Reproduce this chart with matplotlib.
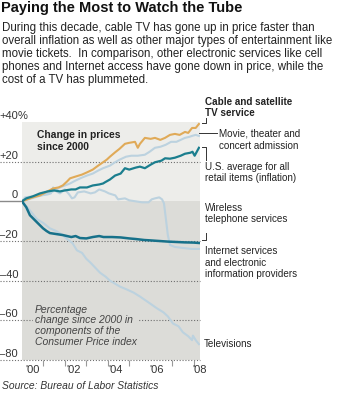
import numpy as np
import matplotlib
matplotlib.use('Agg')
import matplotlib.pyplot as plt
from matplotlib.lines import Line2D

plt.rcParams['font.family'] = ['Liberation Sans', 'DejaVu Sans']

# ---- data (percent change since 2000) ----
cable_yr = [2000.0, 2000.25, 2000.5, 2000.84, 2001.1, 2001.45, 2001.7, 2001.9, 2002.1, 2002.24,
            2002.5, 2002.8, 2003.03, 2003.3, 2003.55, 2003.78, 2003.95, 2004.1, 2004.34, 2004.55,
            2004.8, 2005.0, 2005.27, 2005.4, 2005.5, 2005.73, 2006.0, 2006.2, 2006.45, 2006.67,
            2006.9, 2007.13, 2007.35, 2007.6, 2007.75, 2007.93, 2008.1, 2008.25]
cable = [0, 1, 2, 3, 4.5, 6.5, 7, 8, 10, 11.6,
         12.5, 13.5, 14.6, 16, 18, 19.7, 21, 22.5, 24.7, 26.5,
         29, 29.5, 30, 27, 29, 32, 31.5, 32, 31, 32,
         33.5, 34, 33.5, 35, 34.5, 37, 37, 39]

movie_yr = [2000.0, 2000.3, 2000.6, 2000.9, 2001.2, 2001.45, 2001.77, 2002.0, 2002.24, 2002.5,
            2002.8, 2003.03, 2003.3, 2003.55, 2003.78, 2004.1, 2004.34, 2004.55, 2004.85, 2005.1,
            2005.4, 2005.73, 2005.95, 2006.2, 2006.45, 2006.7, 2006.95, 2007.2, 2007.4, 2007.6,
            2007.8, 2007.93, 2008.1, 2008.25]
movie = [0, 1, 2, 3, 4, 5, 7, 8, 9, 10.5,
         12, 13, 14, 15.5, 16.7, 18, 19.7, 21, 22.5, 23,
         23, 23.5, 25, 27, 27.5, 28.5, 30, 30, 31, 32,
         32.5, 33, 33.5, 33]

cpi_yr = [2000.0, 2000.2, 2000.5, 2000.84, 2001.2, 2001.5, 2001.77, 2002.0, 2002.3, 2002.5,
          2002.7, 2003.03, 2003.3, 2003.6, 2003.78, 2003.87, 2004.1, 2004.34, 2004.6, 2004.8,
          2005.0, 2005.3, 2005.5, 2005.73, 2006.0, 2006.2, 2006.5, 2006.67, 2006.9, 2007.13,
          2007.4, 2007.6, 2007.85, 2007.95, 2008.05, 2008.25]
cpi = [0, 1.5, 2.5, 4, 5, 5.5, 5, 5.5, 6, 6,
       7, 7, 8, 8.5, 9, 9.6, 11, 13, 14, 16.7,
       16, 17, 17.5, 16.7, 18.5, 19.7, 20.5, 21.7, 21.5, 22,
       23, 24, 24.5, 25, 23, 27]

wireless_yr = [2000.0, 2000.2, 2000.37, 2000.7, 2000.98, 2001.15, 2001.3, 2001.6, 2001.9, 2002.1,
               2002.3, 2002.5, 2002.7, 2003.0, 2003.3, 2003.6, 2003.8, 2004.2, 2004.6, 2005.0,
               2005.3, 2005.7, 2006.0, 2006.4, 2006.8, 2007.2, 2007.6, 2008.0, 2008.25]
wireless = [0, -3, -7, -10.6, -13.6, -15, -16, -16.5, -17, -17.5,
            -18, -17.5, -18.5, -18.7, -18, -17.5, -18, -18, -18.2, -18.7,
            -19, -19.5, -19.7, -20, -20.3, -20.5, -20.7, -20.8, -21]

tv_yr = [2000.0, 2000.4, 2000.7, 2001.0, 2001.3, 2001.6, 2001.9, 2002.1, 2002.35, 2002.56,
         2002.8, 2003.0, 2003.2, 2003.64, 2003.9, 2004.1, 2004.57, 2004.9, 2005.2, 2005.5,
         2005.97, 2006.3, 2006.6, 2006.8, 2007.04, 2007.3, 2007.5, 2007.75, 2007.93, 2007.97,
         2008.1, 2008.25]
tv = [0, -5, -9, -11, -13.6, -15, -17, -19, -21, -24.7,
      -26, -29, -31, -36, -38, -40, -43, -44.5, -46, -48,
      -51.5, -54, -56, -58, -61.6, -63, -66, -68, -70, -67.7,
      -70, -72]

net_yr = [2000.0, 2000.14, 2000.5, 2000.9, 2001.2, 2001.35, 2001.45, 2001.6, 2001.77, 2002.0,
          2002.2, 2002.33, 2002.45, 2002.6, 2002.9, 2003.2, 2003.4, 2003.6, 2003.87, 2004.05,
          2004.2, 2004.35, 2004.48, 2004.8, 2005.0, 2005.3, 2005.6, 2005.9, 2006.05, 2006.2,
          2006.4, 2006.53, 2006.62, 2006.7, 2006.8, 2006.9, 2007.13, 2007.5, 2007.9, 2008.25]
net = [0, 2, 2.5, 3, 3.5, 4, 7, 5, 4, 6,
       3.5, 1.5, 2, 4.5, 5, 4, 4.5, 6, 5, 4,
       3.5, 3, 1, 1.5, 0.5, 0, -0.5, -0.5, 1, 1.5,
       2, 1, -1, -8, -17, -22, -23, -23.5, -24, -24]

grid_vals = [20, -20, -40, -60, -80]
ytick_vals = [40, 20, 0, -20, -40, -60, -80]
ytick_text = ['+40', '+20', '0', '\u201320', '\u201340', '\u201360', '\u201380']
year_ticks = [2001, 2002, 2003, 2004, 2005, 2007, 2008]
year_label_pos = [2000.47, 2002.42, 2004.34, 2006.29, 2008.3]
year_labels = ["'00", "'02", "'04", "'06", "'08"]

# ---- layout helpers (pixel coords of a 350x396 image) ----
W, H = 350, 396
def fx(px):
    return px / W
def fy(py):
    return 1 - py / H

upper_bg = '#ededea'
lower_bg = '#dcdcd8'
orange = '#e0aa58'
light = '#bcd2df'
teal = '#1b7e8e'
dark_teal = '#17718a'
txt = '#222222'

fig = plt.figure(figsize=(3.5, 3.96), dpi=100)
ax = fig.add_axes([fx(22), fy(360), fx(200) - fx(22), (360 - 122) / H])
ax.set_xlim(2000, 2008.3)
ax.set_ylim(-80, 40)
ax.set_facecolor('none')
for s in ax.spines.values():
    s.set_visible(False)

ax.axhspan(0, 40, color=upper_bg, zorder=0, lw=0)
ax.axhspan(-80, 0, color=lower_bg, zorder=0, lw=0)

left_ext = -22 / 178
for v in grid_vals:
    ax.plot([left_ext, 1], [v, v], transform=ax.get_yaxis_transform(), color='#6f6f6f',
            lw=0.8, ls=(0, (1, 1.6)), clip_on=False, zorder=1)
ax.plot([left_ext, 0], [0, 0], transform=ax.get_yaxis_transform(), color='#8a8a8a',
        lw=1, clip_on=False, zorder=1)

# series
lw = 1.5
ax.plot(tv_yr, tv, color=light, lw=lw, zorder=2, solid_joinstyle='round')
ax.plot(net_yr, net, color=light, lw=lw, zorder=2, solid_joinstyle='round')
ax.plot(movie_yr, movie, color=light, lw=lw, zorder=2, solid_joinstyle='round')
ax.plot(cable_yr, cable, color=orange, lw=lw, zorder=3, solid_joinstyle='round')
ax.plot(cpi_yr, cpi, color=teal, lw=1.6, zorder=4, solid_joinstyle='round')
ax.plot(wireless_yr, wireless, color=dark_teal, lw=1.8, zorder=4, solid_joinstyle='round')

# x axis
ax.set_yticks([])
ax.set_xticks(year_ticks)
ax.set_xticklabels([])
ax.set_xticks(year_label_pos, minor=True)
ax.set_xticklabels(year_labels, minor=True)
ax.tick_params(axis='x', which='major', length=4, width=0.8, color='#999999', direction='out')
ax.tick_params(axis='x', which='minor', length=0, pad=3.5, labelsize=8, labelcolor='#333333')

# y labels (above the grid lines, on the left)
for v, t in zip(ytick_vals, ytick_text):
    py = 201 - v * 1.983 - 2.5
    fig.text(fx(18), fy(py), t, ha='right', va='baseline', fontsize=8, color='#333333')
    if v == 40:
        fig.text(fx(18), fy(py), '%', ha='left', va='baseline', fontsize=8, color='#333333')

# title and intro
fig.text(fx(1), fy(12), 'Paying the Most to Watch the Tube', fontsize=10.5, fontweight='bold',
         color='#111111', va='baseline')
intro = ['During this decade, cable TV has gone up in price faster than',
         'overall inflation as well as other major types of entertainment like',
         'movie tickets.  In comparison, other electronic services like cell',
         'phones and Internet access have gone down in price, while the',
         'cost of a TV has plummeted.']
for i, line in enumerate(intro):
    fig.text(fx(2), fy(30.7 + i * 13.15), line, fontsize=8.3, color=txt, va='baseline')

# in-plot labels
fig.text(fx(37), fy(138), 'Change in prices', fontsize=7.4, fontweight='bold', color=txt, va='baseline')
fig.text(fx(37), fy(150), 'since 2000', fontsize=7.4, fontweight='bold', color=txt, va='baseline')
ax.text(fx(35), fy(345), 'Percentage\nchange since 2000 in\ncomponents of the\nConsumer Price index',
        transform=fig.transFigure, fontsize=7.5, style='italic', color='#444444', va='baseline',
        linespacing=1.1, zorder=1.5,
        bbox=dict(facecolor=lower_bg, edgecolor='none', pad=1.5))

# right labels
fs = 7.1
fig.text(fx(205), fy(105), 'Cable and satellite', fontsize=fs, fontweight='bold', color=txt, va='baseline')
fig.text(fx(205), fy(116), 'TV service', fontsize=fs, fontweight='bold', color=txt, va='baseline')
fig.text(fx(219), fy(137), 'Movie, theater and', fontsize=fs, color=txt, va='baseline')
fig.text(fx(219), fy(149), 'concert admission', fontsize=fs, color=txt, va='baseline')
fig.text(fx(205), fy(170), 'U.S. average for all', fontsize=fs, color=txt, va='baseline')
fig.text(fx(205), fy(181.5), 'retail items (inflation)', fontsize=fs, color=txt, va='baseline')
fig.text(fx(205), fy(211), 'Wireless', fontsize=fs, color=txt, va='baseline')
fig.text(fx(205), fy(222.5), 'telephone services', fontsize=fs, color=txt, va='baseline')
fig.text(fx(205), fy(254), 'Internet services', fontsize=fs, color=txt, va='baseline')
fig.text(fx(205), fy(265.5), 'and electronic', fontsize=fs, color=txt, va='baseline')
fig.text(fx(205), fy(277), 'information providers', fontsize=fs, color=txt, va='baseline')
fig.text(fx(204), fy(347), 'Televisions', fontsize=fs, color=txt, va='baseline')

# leader lines
def leader(xs, ys):
    fig.add_artist(Line2D([fx(x) for x in xs], [fy(y) for y in ys], color='#333333', lw=0.7,
                          transform=fig.transFigure))
leader([202, 205.5, 205.5], [123, 123, 118])
leader([199, 217], [133, 133])
leader([202, 205.5, 205.5], [147, 147, 160])
leader([202, 205.5, 205.5], [240, 240, 233])

# source
fig.text(fx(2), fy(389), 'Source: Bureau of Labor Statistics', fontsize=7.35, style='italic',
         color='#333333', va='baseline')

fig.savefig('out.png', dpi=100)
